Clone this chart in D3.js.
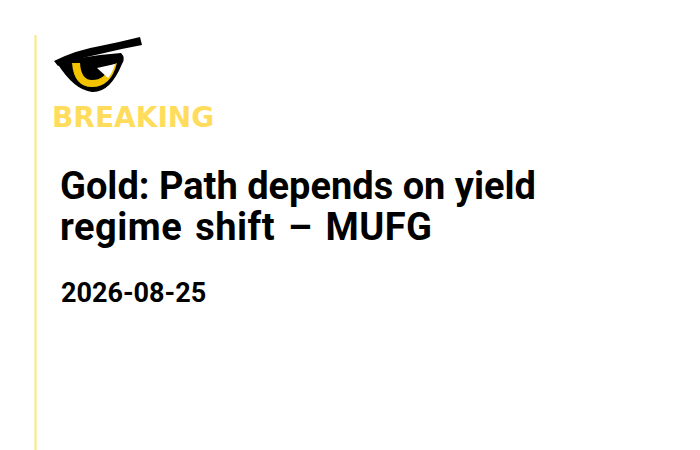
<!DOCTYPE html>
<html>
<head>
<meta charset="utf-8">
<script src="https://cdn.jsdelivr.net/npm/d3@7"></script>
<style>
  html, body { margin: 0; padding: 0; background: #fff; }
  svg { display: block; }
</style>
</head>
<body>
<div id="card"></div>
<script>
// card content
const tag = "BREAKING";
const titleLines = ["Gold: Path depends on yield", "regime shift \u2013 MUFG"];
const titleWordGaps = [0, 3];
const titleLetterGaps = [0, 0.5];
const dateLabel = "2026-08-25";

const width = 700, height = 450;

const svg = d3.select("#card")
    .append("svg")
    .attr("width", width)
    .attr("height", height);

svg.append("rect")
    .attr("width", width)
    .attr("height", height)
    .attr("fill", "#ffffff");

// left accent rule
svg.append("line")
    .attr("x1", 35.5).attr("x2", 35.5)
    .attr("y1", 35).attr("y2", height)
    .attr("stroke", "#fce77d")
    .attr("stroke-width", 2);

// eye logo
const logo = svg.append("g").attr("class", "logo");

// lower eye (black)
logo.append("path")
    .attr("d", "M57,63 Q75,58 100,55 L121,53 Q126,58 122,64 Q110,93 92,92 Q74,90 57,63 Z")
    .attr("fill", "#000");

// yellow iris crescent
logo.append("path")
    .attr("d", "M72,63 Q74,87 92,87 Q111,87 117,63 L110,66 Q105,80 92,80 Q81,80 80,63 Z")
    .attr("fill", "#f3c300");

// white glint
logo.append("path")
    .attr("d", "M97,68 L115,64 Q113,72 108,78 Z")
    .attr("fill", "#fff");

// brow
logo.append("path")
    .attr("d", "M54,61 Q76,50 100,46 Q120,42 140,37 L142,45 Q120,49 100,54 Q76,59 58,66 Z")
    .attr("fill", "#000");

// tag
svg.append("text")
    .attr("x", 52)
    .attr("y", 127)
    .attr("font-family", "'DejaVu Sans', sans-serif")
    .attr("font-weight", 700)
    .attr("font-size", 28)
    .attr("fill", "#ffdc5c")
    .text(tag);

// headline
svg.append("g")
    .selectAll("text")
    .data(titleLines)
    .join("text")
    .attr("x", 60)
    .attr("y", (d, i) => 199 + i * 41)
    .attr("font-family", "Roboto, sans-serif")
    .attr("font-weight", 700)
    .attr("font-size", 38)
    .attr("word-spacing", (d, i) => titleWordGaps[i])
    .attr("letter-spacing", (d, i) => titleLetterGaps[i])
    .attr("fill", "#000")
    .text(d => d);

// date
svg.append("text")
    .attr("x", 61)
    .attr("y", 302)
    .attr("font-family", "Roboto, sans-serif")
    .attr("font-weight", 700)
    .attr("font-size", 27)
    .attr("fill", "#000")
    .text(dateLabel);
</script>
</body>
</html>
